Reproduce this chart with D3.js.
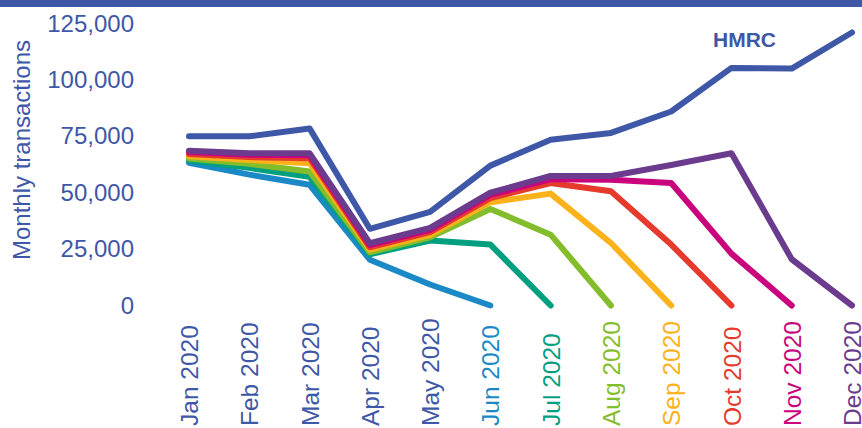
<!DOCTYPE html>
<html>
<head>
<meta charset="utf-8">
<script src="https://cdn.jsdelivr.net/npm/d3@7"></script>
<style>
  html, body { margin: 0; padding: 0; background: #ffffff; }
  svg { display: block; }
  text { font-family: "Liberation Sans", Arial, sans-serif; }
</style>
</head>
<body>
<svg id="chart" width="862" height="428"></svg>
<script>
// Months on the x axis
const months = ["Jan 2020", "Feb 2020", "Mar 2020", "Apr 2020", "May 2020", "Jun 2020",
                "Jul 2020", "Aug 2020", "Sep 2020", "Oct 2020", "Nov 2020", "Dec 2020"];

// Y axis tick values
const yTicks = [0, 25000, 50000, 75000, 100000, 125000];

// HMRC reported monthly transactions
const hmrc = [75000, 75000, 78500, 34000, 41500, 62000, 73500, 76500, 86000, 105300, 105000, 121000];

// Figures as published at each month (null = not yet available)
const asAtJun = [63300, 58000, 53500, 20300, 9300, 0, null, null, null, null, null, null];
const asAtJul = [64300, 61000, 57000, 22700, 28800, 27000, 0, null, null, null, null, null];
const asAtAug = [65200, 62800, 59400, 23600, 30200, 42800, 31400, 0, null, null, null, null];
const asAtSep = [66200, 64500, 63100, 24800, 31300, 45800, 49600, 27700, 0, null, null, null];
const asAtOct = [67200, 65800, 65300, 25800, 32500, 47600, 54300, 50600, 27000, 0, null, null];
const asAtNov = [68000, 66800, 66600, 26800, 33500, 49000, 56000, 55700, 54300, 23000, 0, null];
const asAtDec = [68600, 67500, 67500, 27600, 34400, 50000, 57400, 57400, 62300, 67500, 20500, 0];

const seriesColors = ["#1a89c5", "#009f7f", "#84bd2b", "#fbb21b", "#e63a2c", "#c9047c", "#6b3b8e"];
const vintages = [asAtJun, asAtJul, asAtAug, asAtSep, asAtOct, asAtNov, asAtDec];
const hmrcColor = "#3e57a7";
// Month label colours: first five in HMRC blue, then each vintage colour
const labelColors = [hmrcColor, hmrcColor, hmrcColor, hmrcColor, hmrcColor].concat(seriesColors);

const svg = d3.select("#chart");

// Header strip
svg.append("rect").attr("x", 0).attr("y", 0).attr("width", 862).attr("height", 7).attr("fill", hmrcColor);

const x = d3.scalePoint().domain(months).range([189, 852]);
const y = d3.scaleLinear().domain([0, 125000]).range([305.5, 23.5]);

// Y axis labels
const yAxis = svg.append("g")
  .attr("transform", "translate(134,0)")
  .call(d3.axisLeft(y).tickValues(yTicks).tickFormat(d3.format(",")).tickSize(0).tickPadding(0));
yAxis.select(".domain").remove();
yAxis.selectAll("text")
  .attr("fill", hmrcColor)
  .style("font-size", "24px")
  .style("font-family", "'Liberation Sans', Arial, sans-serif");

svg.append("text")
  .attr("transform", "translate(30,150) rotate(-90)")
  .attr("text-anchor", "middle")
  .attr("fill", hmrcColor)
  .style("font-size", "24px")
  .text("Monthly transactions");

// X axis labels, rotated and reading upwards from the bottom edge
const xAxis = svg.append("g")
  .attr("transform", "translate(0,426)")
  .call(d3.axisBottom(x).tickSize(0).tickPadding(0));
xAxis.select(".domain").remove();
xAxis.selectAll("text")
  .attr("transform", "rotate(-90)")
  .attr("text-anchor", "start")
  .attr("x", 0)
  .attr("y", 0)
  .attr("dy", "0.35em")
  .attr("fill", (d, i) => labelColors[i])
  .style("font-size", "24.5px")
  .style("font-family", "'Liberation Sans', Arial, sans-serif");

const line = d3.line()
  .defined(d => d.v !== null)
  .x(d => x(d.m))
  .y(d => y(d.v));

const toPoints = arr => arr.map((v, i) => ({ m: months[i], v }));

// Vintage lines, earliest first so later ones sit on top
vintages.forEach((arr, i) => {
  svg.append("path")
    .datum(toPoints(arr))
    .attr("d", line)
    .attr("fill", "none")
    .attr("stroke", seriesColors[i])
    .attr("stroke-width", 6)
    .attr("stroke-linecap", "round")
    .attr("stroke-linejoin", "round");
});

// HMRC line
svg.append("path")
  .datum(toPoints(hmrc))
  .attr("d", line)
  .attr("fill", "none")
  .attr("stroke", hmrcColor)
  .attr("stroke-width", 6)
  .attr("stroke-linecap", "round")
  .attr("stroke-linejoin", "round");

svg.append("text")
  .attr("x", 713)
  .attr("y", 47)
  .attr("fill", hmrcColor)
  .style("font-size", "21px")
  .style("font-weight", "bold")
  .text("HMRC");
</script>
</body>
</html>
